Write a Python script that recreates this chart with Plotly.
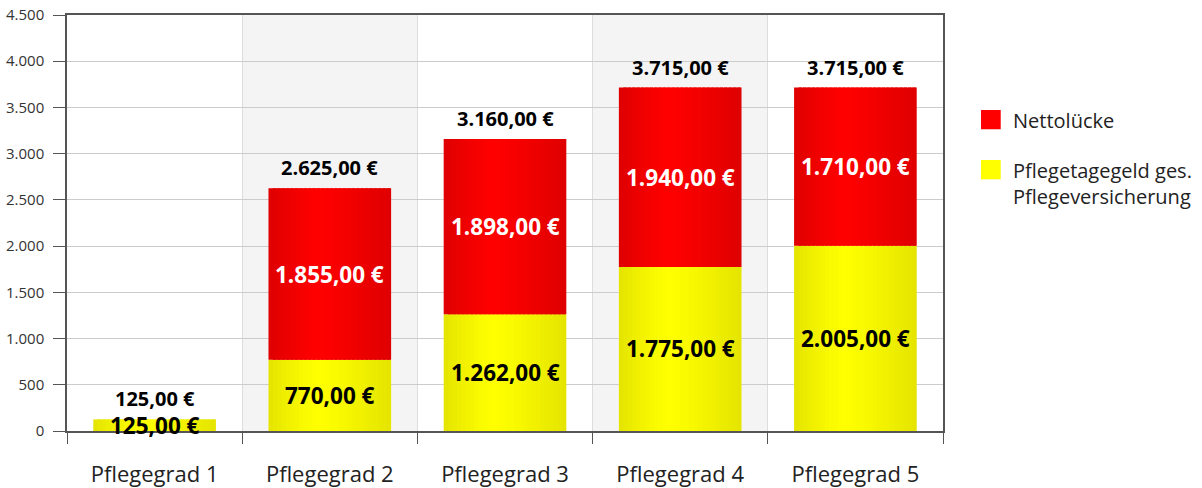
import plotly.graph_objects as go

# ---------------- data ----------------
categories = ["Pflegegrad 1", "Pflegegrad 2", "Pflegegrad 3", "Pflegegrad 4", "Pflegegrad 5"]
pflegetagegeld = [125, 770, 1262, 1775, 2005]
nettoluecke = [0, 1855, 1898, 1940, 1710]
totals = [125, 2625, 3160, 3715, 3715]
y_ticks = [0, 500, 1000, 1500, 2000, 2500, 3000, 3500, 4000, 4500]
series_names = ["Nettolücke", "Pflegetagegeld ges.", "Pflegeversicherung"]

# ---------------- style ----------------
FONT = "Open Sans"
BAR_W = 0.70
N_STRIPS = 28
PEAK = 0.40
RED_PEAK, RED_EDGE = (255, 0, 0), (222, 0, 0)
YEL_PEAK, YEL_EDGE = (255, 255, 0), (228, 228, 0)


def eur(v):
    s = f"{v:,.2f}".replace(",", "X").replace(".", ",").replace("X", ".")
    return s + " €"


def grad_color(t, peak, edge):
    d = (PEAK - t) / PEAK if t < PEAK else (t - PEAK) / (1 - PEAK)
    d = max(0.0, min(1.0, d)) ** 1.2
    c = [round(p - (p - e) * d) for p, e in zip(peak, edge)]
    return f"rgb({c[0]},{c[1]},{c[2]})"


fig = go.Figure()

strip = BAR_W / N_STRIPS
yellow_base = [0] * len(categories)
red_base = pflegetagegeld
for values, base, peak, edge in [
    (pflegetagegeld, yellow_base, YEL_PEAK, YEL_EDGE),
    (nettoluecke, red_base, RED_PEAK, RED_EDGE),
]:
    for i in range(N_STRIPS):
        t = (i + 0.5) / N_STRIPS
        off = -BAR_W / 2 + i * strip
        w = min(strip * 1.8, BAR_W / 2 - off)
        fig.add_trace(go.Bar(
            x=categories, y=values, base=base,
            offset=off, width=w,
            marker=dict(color=grad_color(t, peak, edge), line=dict(width=0)),
            showlegend=False, hoverinfo="skip",
        ))

# segment labels
annotations = []
for c, v in zip(categories, pflegetagegeld):
    annotations.append(dict(x=c, y=v / 2, text=f"<b>{eur(v)}</b>", showarrow=False,
                            font=dict(family=FONT, size=22.5, color="#000000")))
for c, b, v in zip(categories, pflegetagegeld, nettoluecke):
    if v > 0:
        annotations.append(dict(x=c, y=b + v / 2, text=f"<b>{eur(v)}</b>", showarrow=False,
                                font=dict(family=FONT, size=22.5, color="#ffffff")))
for c, v in zip(categories, totals):
    annotations.append(dict(x=c, y=v, text=f"<b>{eur(v)}</b>", showarrow=False,
                            yanchor="bottom", yshift=5,
                            font=dict(family=FONT, size=20, color="#000000")))

# alternating category bands
shapes = []
for k in (1, 3):
    shapes.append(dict(type="rect", xref="x", yref="paper", x0=k - 0.5, x1=k + 0.5,
                       y0=0, y1=1, fillcolor="#f4f4f4", line=dict(width=0), layer="below"))

# legend (manual, in paper coordinates)
LX0, LX1 = 1.0434, 1.0659
shapes.append(dict(type="rect", xref="paper", yref="paper", x0=LX0, x1=LX1,
                   y0=0.7253, y1=0.7716, fillcolor="#ff0000", line=dict(width=0)))
shapes.append(dict(type="rect", xref="paper", yref="paper", x0=LX0, x1=LX1,
                   y0=0.6050, y1=0.6514, fillcolor="#ffff00", line=dict(width=0)))
for txt, yy in [(series_names[0], 0.747), (series_names[1], 0.626), (series_names[2], 0.564)]:
    annotations.append(dict(xref="paper", yref="paper", x=1.0775, y=yy,
                            xanchor="left", yanchor="middle",
                            text=txt, showarrow=False,
                            font=dict(family=FONT, size=20, color="#222222")))

fig.update_layout(
    width=1202, height=488,
    margin=dict(l=67, r=259, t=15, b=57, autoexpand=False),
    barmode="overlay",
    plot_bgcolor="#ffffff", paper_bgcolor="#ffffff",
    separators=",.",
    showlegend=False,
    annotations=annotations,
    shapes=shapes,
    font=dict(family=FONT),
)
fig.update_xaxes(
    type="category", tickson="boundaries", ticks="outside", ticklen=11,
    tickcolor="#555555", showgrid=True, gridcolor="#dddddd", gridwidth=1,
    showline=True, linecolor="#555555", linewidth=1.5, mirror=True,
    tickfont=dict(family=FONT, size=22, color="#222222"), ticklabelstandoff=23,
    range=[-0.5, 4.5], automargin=False,
)
fig.update_yaxes(
    range=[0, 4500], tickvals=y_ticks, tickformat=",d", ticks="outside", ticklen=12,
    tickcolor="#555555", showgrid=True, gridcolor="#cccccc", gridwidth=1,
    showline=True, linecolor="#555555", linewidth=1.5, mirror=True,
    zeroline=False, automargin=False,
    tickfont=dict(family=FONT, size=15, color="#333333"), ticklabelstandoff=6,
)

fig.write_html("out.html", config={"displayModeBar": False},
               post_script="document.body.style.margin='0px';")
